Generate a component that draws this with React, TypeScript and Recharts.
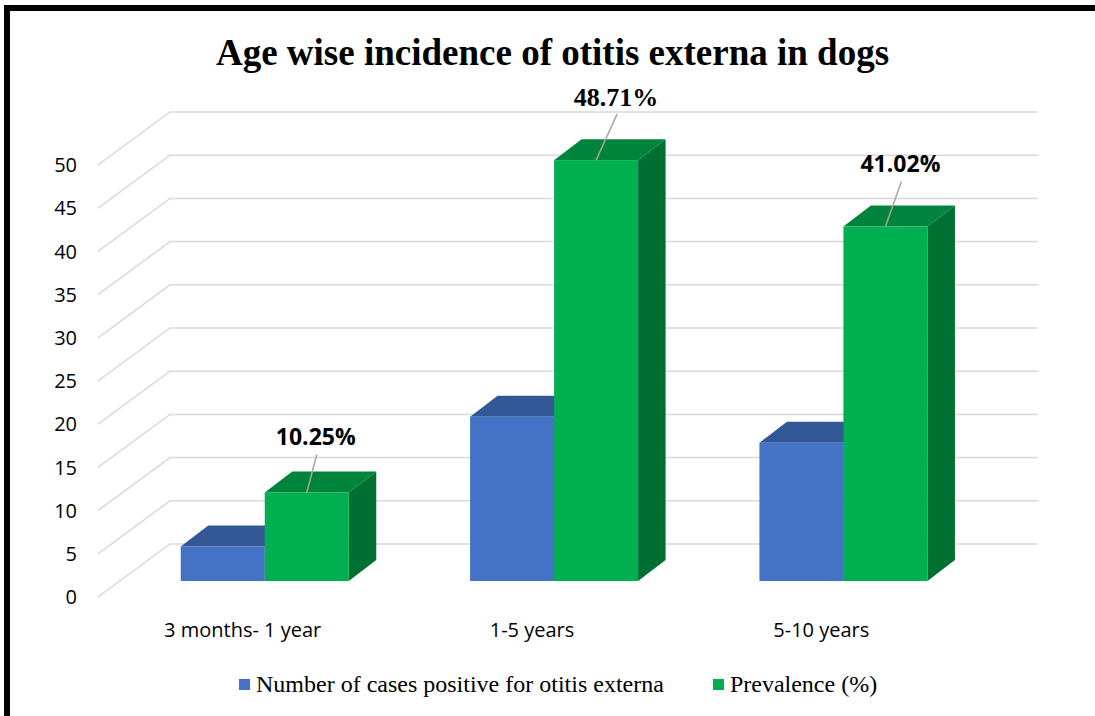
import React from 'react';
import { BarChart, Bar, XAxis, YAxis, CartesianGrid, Legend, LabelList } from 'recharts';

const ageGroups = ['3 months- 1 year', '1-5 years', '5-10 years'];
const positiveCases = [4, 19, 16];
const prevalence = [10.25, 48.71, 41.02];
const yTicks = [0, 5, 10, 15, 20, 25, 30, 35, 40, 45, 50];

const data = ageGroups.map((group, i) => ({
  group,
  cases: positiveCases[i],
  prevalence: prevalence[i],
}));

// fake 3D: the back wall sits up and to the right of the axis plane,
// the bars stand part way into the floor
const WALL_DX = 72;
const WALL_DY = -53;
const BAR_DX = 22;
const BAR_DY = -16;
const DEPTH_X = 27.5;
const DEPTH_Y = -21;

// hand placed percentage labels (offsets from the top front edge of each bar)
const labelNudge = [
  { dx: 9, dy: -56 },
  { dx: 20, dy: -64 },
  { dx: 15, dy: -63 },
];
const labelSerif = [false, true, false];

const SANS = '"Open Sans", "Noto Sans", sans-serif';
const SERIF = '"Liberation Serif", "Times New Roman", serif';

const box3d = (front: string, top: string, side: string) => (props: any) => {
  const { x, y, width, height } = props;
  if (height == null || width == null) return <g />;
  const fx = x + BAR_DX;
  const fy = y + BAR_DY;
  const rx = fx + width;
  const by = fy + height;
  return (
    <g>
      <polygon
        points={`${rx},${fy} ${rx + DEPTH_X},${fy + DEPTH_Y} ${rx + DEPTH_X},${by + DEPTH_Y} ${rx},${by}`}
        fill={side}
      />
      <polygon
        points={`${fx},${fy} ${fx + DEPTH_X},${fy + DEPTH_Y} ${rx + DEPTH_X},${fy + DEPTH_Y} ${rx},${fy}`}
        fill={top}
      />
      <rect x={fx} y={fy} width={width} height={height} fill={front} />
    </g>
  );
};

const wallLine = (props: any) => {
  const { x1, y1, x2, index } = props;
  return (
    <polyline
      key={`wall-${index}-${y1}`}
      points={`${x1},${y1} ${x1 + WALL_DX},${y1 + WALL_DY} ${x2 + WALL_DX},${y1 + WALL_DY}`}
      fill="none"
      stroke="#d9d9d9"
      strokeWidth={1.5}
    />
  );
};

const PercentLabel = (props: any) => {
  const { x, y, width, value, index } = props;
  const ax = x + BAR_DX + width / 2;
  const ay = y + BAR_DY;
  const lx = ax + labelNudge[index].dx;
  const ly = ay + labelNudge[index].dy;
  const serif = labelSerif[index];
  return (
    <g>
      <line x1={lx + 1} y1={ly + 18} x2={ax} y2={ay} stroke="#a6a6a6" strokeWidth={1.5} />
      <text
        x={lx}
        y={ly}
        dy="0.36em"
        textAnchor="middle"
        fontFamily={serif ? SERIF : SANS}
        fontSize={serif ? 26 : 23}
        fontWeight="bold"
        fill="#000"
      >
        {`${value}%`}
      </text>
    </g>
  );
};

const LegendRow = ({ payload }: any) => (
  <div style={{ display: 'flex', alignItems: 'center', fontFamily: SERIF, fontSize: 24, color: '#000', whiteSpace: 'nowrap' }}>
    {(payload || []).map((p: any, i: number) => (
      <span key={p.value} style={{ display: 'flex', alignItems: 'center', marginLeft: i ? 49 : 0 }}>
        <span style={{ display: 'inline-block', width: 11, height: 11, background: p.color, marginRight: 6 }} />
        {p.value}
      </span>
    ))}
  </div>
);

export default function App() {
  return (
    <div style={{ position: 'absolute', left: 0, top: 0, width: 1095, height: 716, overflow: 'hidden', background: '#fff' }}>
      <BarChart
        width={1095}
        height={716}
        data={data}
        margin={{ top: 165, right: 129, bottom: 89, left: 0 }}
        barGap={0}
        barCategoryGap="21%"
      >
        <CartesianGrid vertical={false} horizontal={wallLine} />
        <XAxis
          dataKey="group"
          axisLine={false}
          tickLine={false}
          tickMargin={20}
          tick={{ fontSize: 20, fill: '#000', fontFamily: SANS }}
        />
        <YAxis
          domain={[0, 50]}
          ticks={yTicks}
          width={98}
          axisLine={false}
          tickLine={false}
          tickMargin={15}
          tick={{ fontSize: 20, fill: '#000', fontFamily: SANS }}
        />
        <Legend
          layout="horizontal"
          verticalAlign="middle"
          align="center"
          content={<LegendRow />}
          wrapperStyle={{ left: 239, top: 671, width: 'auto' }}
        />
        <Bar
          dataKey="cases"
          name="Number of cases positive for otitis externa"
          fill="#4472c4"
          shape={box3d('#4472c4', '#335896', '#2c4f8c')}
          isAnimationActive={false}
        />
        <Bar
          dataKey="prevalence"
          name="Prevalence (%)"
          fill="#00b050"
          shape={box3d('#00b050', '#00843b', '#007032')}
          isAnimationActive={false}
        >
          <LabelList dataKey="prevalence" content={<PercentLabel />} />
        </Bar>
      </BarChart>
      <div
        style={{
          position: 'absolute',
          left: 5,
          top: 31,
          width: 1095,
          textAlign: 'center',
          fontFamily: SERIF,
          fontWeight: 'bold',
          fontSize: 37,
          color: '#000',
          pointerEvents: 'none',
        }}
      >
        Age wise incidence of otitis externa in dogs
      </div>
      <div
        style={{
          position: 'absolute',
          left: 4,
          top: 5,
          width: 1200,
          height: 800,
          borderTop: '6px solid #000',
          borderLeft: '6px solid #000',
          pointerEvents: 'none',
        }}
      />
    </div>
  );
}
